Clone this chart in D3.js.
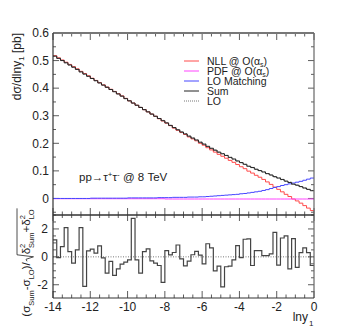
<!DOCTYPE html>
<html>
<head>
<meta charset="utf-8">
<script src="https://cdn.jsdelivr.net/npm/d3@7"></script>
<style>
  body { margin: 0; background: #fff; }
  svg { display: block; font-family: "Liberation Sans", Arial, sans-serif; }
</style>
</head>
<body>
<div id="chart"></div>
<script>
// binning of ln y1 : 70 bins of 0.2 from -14 to 0
const binLo = -14, binHi = 0, nBins = 70;

// top panel, dsigma/dlny1 [pb] per bin
const sumVals = [.516,.508,.500,.492,.484,.476,.468,.459,.451,.443,.435,.427,.419,.411,.403,.395,.387,.379,.371,.362,
  .354,.346,.338,.330,.322,.314,.306,.298,.290,.282,.274,.265,.257,.249,.241,.234,.226,.219,.212,.204,
  .197,.189,.182,.175,.168,.162,.156,.149,.143,.136,.130,.124,.117,.112,.106,.101,.096,.090,.085,.079,
  .074,.069,.063,.058,.052,.048,.043,.038,.033,.028];
const loVals = [.516,.508,.501,.492,.484,.476,.468,.459,.451,.443,.435,.427,.419,.411,.404,.395,.388,.379,.371,.362,
  .354,.345,.338,.331,.322,.314,.306,.298,.290,.283,.274,.265,.257,.249,.241,.235,.226,.219,.212,.204,
  .198,.189,.182,.176,.168,.163,.156,.149,.143,.136,.130,.123,.116,.113,.106,.101,.096,.090,.085,.078,
  .075,.068,.062,.059,.051,.049,.043,.037,.033,.029];
const nllVals = [.518,.510,.502,.494,.486,.478,.470,.461,.453,.445,.436,.428,.420,.412,.404,.396,.388,.380,.372,.363,
  .354,.346,.338,.330,.322,.314,.306,.298,.289,.281,.273,.264,.255,.247,.239,.232,.223,.216,.209,.200,
  .193,.184,.176,.168,.160,.153,.146,.138,.131,.123,.115,.108,.099,.092,.084,.077,.069,.060,.051,.041,
  .033,.024,.015,.007,-.002,-.009,-.017,-.026,-.035,-.044];
const pdfVals = [-.001,-.001,-.001,-.001,-.001,-.001,-.001,-.001,-.001,-.001,-.001,-.001,-.001,-.001,-.001,-.001,-.001,-.001,-.001,-.001,
  -.001,-.001,-.001,-.001,-.001,-.001,-.001,-.001,-.001,-.001,-.002,-.002,-.002,-.002,-.002,-.002,-.002,-.002,-.002,-.002,
  -.002,-.002,-.002,-.002,-.002,-.002,-.002,-.002,-.002,-.002,-.002,-.002,-.002,-.002,-.002,-.002,-.002,-.002,-.002,-.002,
  -.002,-.002,-.002,-.002,-.002,-.002,-.002,-.002,-.002,-.002];
const matchVals = [0,0,0,0,0,0,0,0,0,0,.001,.001,.001,.001,.001,.001,.001,.001,.001,.001,
  .002,.002,.002,.002,.002,.002,.002,.002,.003,.003,.003,.003,.004,.004,.004,.004,.005,.005,.005,.006,
  .006,.007,.008,.009,.010,.011,.012,.013,.014,.015,.017,.018,.020,.022,.024,.026,.029,.032,.036,.040,
  .043,.047,.050,.053,.056,.059,.062,.066,.070,.074];

// bottom panel, (sigma_Sum - sigma_LO)/sqrt(dSum^2 + dLO^2)
const pullVals = [1.21,-0.05,0.73,2.09,0.38,-0.45,0.5,2.09,-2.12,0.43,0.55,0.27,0.79,-0.07,-1.17,-0.33,-1.33,-0.86,-0.52,-0.38,
  -0.21,2.76,-0.21,-1.17,0.38,0.57,-0.29,-0.45,-0.62,-1.83,0.45,0.14,0.31,0.85,-0.15,-0.65,-0.3,0.15,0.39,0.12,
  -0.5,0.94,0.65,-1.0,-0.67,-2.15,-0.71,-0.67,-0.22,0.81,-0.05,1.26,1.29,-0.62,0.45,0.45,0.09,0.09,0.22,1.76,
  -0.6,1.35,1.5,-0.86,1.3,-0.75,0.3,0.64,0.3,-0.62];

const xTicks = [-14, -12, -10, -8, -6, -4, -2, 0];
const yTopTicks = [0, 0.1, 0.2, 0.3, 0.4, 0.5, 0.6];
const yBotTicks = [-2, 0, 2];

const series = [
  { name: "NLL", vals: nllVals, color: "#ff4a4a", dash: null },
  { name: "PDF", vals: pdfVals, color: "#ff44ff", dash: null },
  { name: "LO Matching", vals: matchVals, color: "#4646ff", dash: null },
  { name: "LO", vals: loVals, color: "#888", dash: "1.5,1.5" },
  { name: "Sum", vals: sumVals, color: "#222", dash: null }
];

const W = 349, H = 332;
const L = 53, R = 314, T = 33, MID = 215, B = 298;

const svg = d3.select("#chart").append("svg").attr("width", W).attr("height", H);

const x = d3.scaleLinear().domain([binLo, binHi]).range([L, R]);
const yTop = d3.scaleLinear().domain([-0.06, 0.6]).range([MID, T]);
const yBot = d3.scaleLinear().domain([-2.95, 3]).range([B, MID]);

const edges = d3.range(nBins + 1).map(i => binLo + i * (binHi - binLo) / nBins);

function stepLine(vals, y) {
  const pts = vals.map((v, i) => [edges[i], v]);
  pts.push([edges[nBins], vals[nBins - 1]]);
  return d3.line().x(d => x(d[0])).y(d => y(d[1])).curve(d3.curveStepAfter)(pts);
}

// clip
svg.append("clipPath").attr("id", "cTop").append("rect")
  .attr("x", L).attr("y", T).attr("width", R - L).attr("height", MID - T);
svg.append("clipPath").attr("id", "cBot").append("rect")
  .attr("x", L).attr("y", MID).attr("width", R - L).attr("height", B - MID);

// ticks helper (ROOT style: inside, mirrored)
function ticksX(y0, dir, minorLen, majorLen) {
  const g = svg.append("g").attr("stroke", "#333").attr("stroke-width", 0.8);
  d3.range(binLo, binHi + 0.001, 0.5).forEach(v => {
    const major = Math.abs(v % 2) < 1e-6;
    g.append("line").attr("x1", x(v)).attr("x2", x(v))
      .attr("y1", y0).attr("y2", y0 + dir * (major ? majorLen : minorLen));
  });
}
function ticksY(y, lo, hi, step, majorStep, x0, dir, minorLen, majorLen) {
  const g = svg.append("g").attr("stroke", "#333").attr("stroke-width", 0.8);
  const n = Math.round((hi - lo) / step);
  for (let i = 0; i <= n; i++) {
    const v = lo + i * step;
    const major = Math.abs(v / majorStep - Math.round(v / majorStep)) < 1e-6;
    g.append("line").attr("y1", y(v)).attr("y2", y(v))
      .attr("x1", x0).attr("x2", x0 + dir * (major ? majorLen : minorLen));
  }
}

ticksX(T, 1, 3.5, 7);
ticksX(MID, -1, 3.5, 7);
ticksX(MID, 1, 3, 6);
ticksX(B, -1, 3.5, 7);
ticksY(yTop, -0.05, 0.6, 0.05, 0.1, L, 1, 3, 6);
ticksY(yTop, -0.05, 0.6, 0.05, 0.1, R, -1, 3, 6);
ticksY(yBot, -2.5, 3, 0.5, 2, L, 1, 3, 6);
ticksY(yBot, -2.5, 3, 0.5, 2, R, -1, 3, 6);

// top panel curves
const gTop = svg.append("g").attr("clip-path", "url(#cTop)");
series.forEach(s => {
  gTop.append("path").attr("d", stepLine(s.vals, yTop))
    .attr("fill", "none").attr("stroke", s.color).attr("stroke-width", 1)
    .attr("stroke-dasharray", s.dash);
});

// bottom panel
const gBot = svg.append("g").attr("clip-path", "url(#cBot)");
gBot.append("line").attr("x1", L).attr("x2", R).attr("y1", yBot(0)).attr("y2", yBot(0))
  .attr("stroke", "#555").attr("stroke-width", 0.8).attr("stroke-dasharray", "1,1.5");
gBot.append("path").attr("d", stepLine(pullVals, yBot))
  .attr("fill", "none").attr("stroke", "#444").attr("stroke-width", 1.2);

// frames
svg.append("line").attr("x1", L).attr("x2", R).attr("y1", T).attr("y2", T)
  .attr("stroke", "#777").attr("stroke-width", 2);
svg.append("line").attr("x1", R).attr("x2", R).attr("y1", T).attr("y2", B)
  .attr("stroke", "#666").attr("stroke-width", 1.2);
svg.append("line").attr("x1", L).attr("x2", L).attr("y1", T).attr("y2", B)
  .attr("stroke", "#333").attr("stroke-width", 1.2);
svg.append("line").attr("x1", L).attr("x2", R).attr("y1", MID).attr("y2", MID)
  .attr("stroke", "#333").attr("stroke-width", 1.5);
svg.append("line").attr("x1", L).attr("x2", R).attr("y1", B).attr("y2", B)
  .attr("stroke", "#333").attr("stroke-width", 1.2);

// tick labels
const fs = 12;
svg.append("g").selectAll("text").data(yTopTicks).join("text")
  .attr("x", L - 4).attr("y", d => yTop(d)).attr("dy", "0.35em")
  .attr("text-anchor", "end").attr("font-size", fs).attr("fill", "#222")
  .text(d => d === 0 ? "0" : d3.format(".1f")(d));
svg.append("g").selectAll("text").data(yBotTicks).join("text")
  .attr("x", L - 5).attr("y", d => yBot(d)).attr("dy", "0.35em")
  .attr("text-anchor", "end").attr("font-size", fs).attr("fill", "#222")
  .text(d => d);
svg.append("g").selectAll("text").data(xTicks).join("text")
  .attr("x", d => x(d)).attr("y", B + 13)
  .attr("text-anchor", "middle").attr("font-size", fs).attr("fill", "#222")
  .text(d => d);

// x title
svg.append("text").attr("x", 308).attr("y", 321).attr("text-anchor", "end")
  .attr("font-size", 12).attr("fill", "#222").text("lny");
svg.append("text").attr("x", 309).attr("y", 326).attr("font-size", 8).attr("fill", "#222").text("1");

// y title, top
const yt = svg.append("text").attr("transform", `translate(21,${T}) rotate(-90)`)
  .attr("text-anchor", "end").attr("font-size", 12).attr("fill", "#222");
yt.append("tspan").text("dσ/dlny");
yt.append("tspan").attr("font-size", 8).attr("dy", 3).text("1");
yt.append("tspan").attr("dy", -3).text(" [pb]");

// y title, bottom (manual layout of sub/superscripts and radical)
const gy = svg.append("g").attr("fill", "#222");
const inner = gy.append("g");
let cx = 0;
function piece(str, size, dy) {
  const t = inner.append("text").attr("x", cx).attr("y", dy).attr("font-size", size).text(str);
  const w = t.node().getComputedTextLength();
  return { t, w };
}
function add(str, size, dy) { const p = piece(str, size, dy); cx += p.w; return p; }
function stack(sup, sub) {
  const a = piece(sup, 7.5, -5), b = piece(sub, 7.5, 3.5);
  cx += Math.max(a.w, b.w);
}
add("(σ", 11.5, 0); add("Sum", 7.5, 3.5); add("-σ", 11.5, 0); add("LO", 7.5, 3.5); add(")", 11.5, 0);
add("/", 11.5, 0);
const r0 = cx + 1; cx += 8;
add("δ", 11.5, 0); stack("2", "Sum"); add("+δ", 11.5, 0); stack("2", "LO");
inner.append("path")
  .attr("d", `M${r0},-3 L${r0 + 2},-4 L${r0 + 4.5},3.5 L${r0 + 6.5},-13 L${cx + 1},-13`)
  .attr("fill", "none").attr("stroke", "#222").attr("stroke-width", 0.8);
gy.attr("transform", `translate(30,${263 + cx / 2}) rotate(-90)`);

// process label
const pl = svg.append("text").attr("x", 79).attr("y", 181).attr("font-size", 11.5).attr("fill", "#222");
pl.append("tspan").text("pp→τ");
pl.append("tspan").attr("font-size", 8).attr("dy", -4).text("+");
pl.append("tspan").attr("dy", 4).text("τ");
pl.append("tspan").attr("font-size", 8).attr("dy", -4).text("-");
pl.append("tspan").attr("dy", 4).text(" @ 8 TeV");

// legend
const legend = [
  { label: ["NLL @ O(α", "s", ")"], color: "#ff4a4a", dash: null },
  { label: ["PDF @ O(α", "s", ")"], color: "#ff44ff", dash: null },
  { label: ["LO Matching"], color: "#4646ff", dash: null },
  { label: ["Sum"], color: "#222", dash: null },
  { label: ["LO"], color: "#777", dash: "1,1" }
];
const lg = svg.append("g");
legend.forEach((d, i) => {
  const yy = 61 + i * 10;
  lg.append("line").attr("x1", 184).attr("x2", 199).attr("y1", yy).attr("y2", yy)
    .attr("stroke", d.color).attr("stroke-width", 1).attr("stroke-dasharray", d.dash);
  const t = lg.append("text").attr("x", 207).attr("y", yy + 3.5).attr("font-size", 10.5).attr("fill", "#222");
  t.append("tspan").text(d.label[0]);
  if (d.label.length > 1) {
    t.append("tspan").attr("font-size", 7).attr("dy", 2).text(d.label[1]);
    t.append("tspan").attr("dy", -2).text(d.label[2]);
  }
});
</script>
</body>
</html>
